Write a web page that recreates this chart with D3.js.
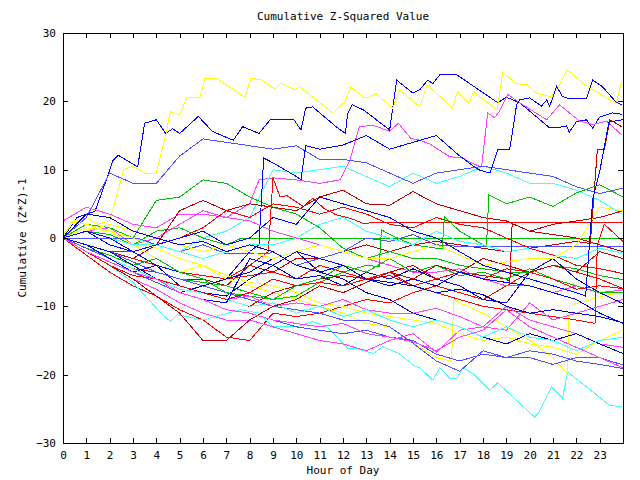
<!doctype html>
<html lang="en">
<head>
<meta charset="UTF-8">
<title>Cumulative Z-Squared Value</title>
<script src="https://cdn.jsdelivr.net/npm/d3@7"></script>
<style>
  body { margin: 0; background: #fff; }
  svg text { font-family: "DejaVu Sans Mono", "Liberation Mono", monospace; font-size: 11px; fill: #000; }
</style>
</head>
<body>
<svg width="640" height="480"></svg>
<script>
// hourly sample points (used by most series)
const hours = d3.range(0, 25);
const xTicks = d3.range(0, 24);
const yTicks = [-30, -20, -10, 0, 10, 20, 30];

// series traced at finer resolution carry their own hour arrays
const yellow1Hours = [0,0.5,1,1.5,2,2.6,3,3.5,4,4.4,4.6,5,5.3,5.87,6.08,6.6,7.8,8.05,8.52,9.08,9.34,9.94,10.15,11.56,12.08,12.33,12.93,13.15,13.4,14.13,14.43,15.29,15.6,16.7,16.9,17.4,17.6,18.6,18.85,19.4,19.9,20.3,20.9,21.2,21.6,22.3,23.1,23.7,23.95];
const yellow1 = [0.5,2.5,3,2,2.5,10,10.5,9.5,9.5,15,18.5,18,20.5,20.6,23.3,23.3,20.6,23.4,23.1,21.8,22.7,21.7,22.1,18.3,19.9,22.1,20.5,20.6,21.2,19,21.7,19.2,22.4,19,21.4,19.7,21.4,18.7,24.3,22.6,22.4,21.2,20.7,21.9,24.6,22.6,20.9,19.7,22.9];

const blue1Hours = [0,0.6,1.37,1.7,2.15,2.37,3.2,3.5,4,4.4,4.7,5,5.8,6.4,7.3,7.7,8.4,8.9,9.9,10.2,10.4,10.7,11.7,12.1,12.2,12.4,12.9,14,14.3,15,15.29,15.63,15.85,16.15,16.87,17.43,18.16,18.63,19,19.57,20.2,20.86,21.16,21.58,21.7,22,22.44,22.7,23,23.55,23.94];
const blue1 = [0,3,3.9,7,11.4,12.1,10.4,16.8,17.3,15.3,16,15.3,17.8,15.6,14.3,16.3,15.3,17.4,17.3,15.8,19,19.2,16.3,15.3,18.2,19.5,18.7,15.8,23.1,21.2,21.7,23.1,22.6,23.9,23.9,22.6,20.9,19.8,20.6,19.8,18,16.1,16.1,16.4,15.5,17,17.3,16.1,17.7,18.3,18.1];

const blue2Hours = [0,1,2,3,4,5,6,7,8,8.4,8.6,9,10,10.2,10.4,11,12,13,14,15,16,17,17.8,18.3,18.63,19.14,19.23,19.44,19.57,20,20.3,20.5,20.73,20.86,21.16,21.4,21.7,22.44,22.7,23.1,23.7,23.94];
const blue2 = [0,1,-1,-2,-4,-5,-4,-6,-2,-1,11.7,11,9,8.5,13.5,13,13.6,15,13,14,15,12,10,9.5,12.9,12.9,14.8,19.5,20.2,20.5,19.8,19.3,20.2,19.3,22.2,20.7,20.4,20.4,23.1,22.2,19.9,19.5];

const blue7Hours = [0,1,2,3,4,5,6,7,8,9,10,11,12,13,14,15,16,17,18,19,20,21,22,22.4,22.7,23,23.4,24];
const blue7 = [0,1,0,-2,-1,0,1,-1,0,3,2,6,5,4,3,1,0,-2,-4,-5,-6,-7,-8,-8.5,5.6,9.7,17,17.3];

const magenta1Hours = [0,1,2,3,4,5,6,7,8,8.4,9,10,11,11.87,12.3,12.7,13.3,14,14.37,14.9,15.29,15.7,16.57,17.13,17.56,17.94,18.2,18.5,18.7,19.06,19.57,20.73,21.28,22.14,22.7,23.3,23.94];
const magenta1 = [0,1,1.5,-1,0,2,4,3,5,8.5,8.8,8.5,8,8.5,11.4,16.3,16.5,15.6,16.8,14.6,14.3,13.8,11.9,11.7,10.9,10.4,18.3,17.6,18.5,21,19.8,17.3,19.5,17.1,16.6,17.1,15.1];

const cyan2Hours = [0,1,2,3,4.2,4.6,4.9,6,7.6,8.4,9,10,10.7,11.3,12.2,12.5,13.3,13.7,14.4,15.1,15.29,15.85,16.15,16.57,16.87,17.13,17.56,18.29,18.63,20.21,20.4,20.94,21.41,21.63,22.44,23.43,23.94];
const cyan2 = [0,-2,-4,-6.5,-11,-12.2,-11.2,-12,-10.5,-11,-13,-13,-12.2,-13,-16.1,-16.1,-16.9,-15.9,-16.9,-18.8,-19,-20.8,-19,-20.5,-20.6,-19,-19.8,-22.3,-21.2,-26.2,-25.5,-21.8,-23.4,-19.6,-21.8,-24.5,-24.7];

const darkred1Hours = [0,1,2,3,4,5,6,7,8,9,10,11,12,13,14,15,16,17,18,19,20,21,22,22.6,22.9,23.2,23.44,23.94];
const darkred1 = [0,-1,-2,-3.5,-5,-6,-6,-7,-4,-5,-3,-3,-2,-1,-2,-1,-0.5,-1,-1.5,-2,-1.5,-1,-0.5,-0.8,12.9,12.9,17.3,16.3];

const darkred3Hours = [0,1,2,3,4,5,6,7,8,9,10,11,12,13,14,15,16,17,18,19,19.15,19.25,20,21,22,23,24];
const darkred3 = [0,-1.5,-3,-4.5,-6,-7,-8,-9,-10,-8,-7,-6,-5.5,-6,-5,-4,-6,-5,-5.5,-6,-6.4,2.1,1,0.5,0,-1,-2];

const red1Hours = [0,1,2,3,4,5,6,7,8,8.8,9,9.3,9.6,10.3,10.7,11.2,11.7,12.3,12.9,13.4,24];
const red1 = [0,-1,-2,-3,-4,-5,-5.5,-6,-4,-2,8.8,6,6.2,4.6,5.8,4.3,3.4,2.9,2.1,2.3,2.3];

const red3Hours = [0,1,2,3,4,5,6,7,8,9,10,11,12,13,14,15,16,17,18,19,20,21,22,22.8,22.9,23.2,24];
const red3 = [0,-1.5,-3,-4.5,-5,-6,-7,-6,-5.5,-5,-6,-4,-5,-6,-5.5,-7,-8,-9,-10,-10.5,-11,-11.5,-12,-12.5,-1,2,-0.5];

const yellow2Hours = [0,1,2,3,4,5,6,7,8,9,10,11,12,13,14,15,16,16.65,16.75,17,18,19,20,21,21.6,21.7,22,23,24];
const yellow2 = [0,1.5,1,-1,-3,-5,-4,-6,-7,-8,-9,-10,-11,-12.5,-13,-15.4,-17.5,-18,-9,-9.5,-11,-13,-15,-17.5,-19.8,-10,-9.6,-8.6,-7.9];

const green2Hours = [0,1,2,3,4,5,6,7,8,9,10,11,12,13,13.55,13.65,14,15,16,16.25,16.35,17,18,18.15,18.25,19,20,21,22,23,24];
const green2 = [0,-1,-2,-3.5,-5,-6,-6.5,-7,-8,-9,-8.5,-6.5,-5,-4,-4.2,1.2,0.5,-1,-1.5,-1.6,3.1,1,-1,-1.2,6.3,5,6,4.6,6.6,7.8,6];

const slate2Hours = [0,3.2,4,5,6,7,8.8,9,10,11,12,13,14,15,16,16.9,24];
const slate2 = [0,0,-1,-2,-1,-2.3,-2.3,-2,-4,-3,-2,0,-0.5,0.5,-1,-1.2,-1.2];

const green0Hours = [0,1,2,3,4,5,6,7,7.66,24];
const green0 = [0,1,0.5,-1,1,1.5,0,-1,0,0];

// hourly series
const yellow3 = [2.5,2,1,0,-1.5,-3,-4,-5.5,-6.5,-7,-8,-9.5,-10,-11,-11.5,-12,-12.5,-14,-15,-14.5,-15.5,-16,-17,-15,-13.5];
const yellow4 = [0,1,2,1,0,-1,-2,-1,-2,-3,-2,-1,-2,-3,-3,-2,-1,-2.5,-4,-3.5,-3,-3,-1,4.5,4];

const blue3 = [0,-1,-3,-5,-4,-7,-8,-8.5,-6,-4,-6,-5.5,-7,-5,-6,-4.5,-6,-7,-9,-9.5,-5,-3,-6,-8,-9.6];
const blue4 = [0,-1,-2,-4,-6,-8,-7,-6,-5,-3,-2,-5,-6,-8,-9,-11,-12,-13,-14.5,-15.5,-14,-15,-14,-15.5,-16.9];
const blue5 = [0,-1,-3,-5,-6,-8,-9,-9.5,-3,-4,-2,-3,-4,-6,-7,-6,-7,-5,-6,-6.5,-7,-8,-9,-11,-12.5];
const blue6 = [0,3.5,3,1,0,-1,-0.5,-2,-1,-2,-4,-5,-4,-6,-6.5,-7,-8,-7.5,-8.3,-10,-11,-10.5,-11,-11.5,-12.4];

const slate1 = [0,3,9.5,8,8,12,14.5,14,13.5,13,13.5,11.5,11.5,11,9.5,8,9.5,10,10.5,10,9.5,9,7.5,6.5,7.3];
const slate3 = [0,-1,-2,-3.5,-5,-6,-7,-8,-9,-10,-10.5,-11,-12,-12,-13,-15.4,-18,-19.5,-16.5,-17.5,-17.5,-18.5,-17.5,-17.5,-18.6];
const slate4 = [0,-1.5,-3,-5,-6.5,-8,-9,-10.5,-11,-12,-13,-13.5,-14,-13.5,-14.5,-15,-17,-18,-17,-17.5,-16.5,-17,-18,-18.5,-19.1];

const red2 = [0,-2.5,-5,-7,-8.5,-10.5,-12,-14.5,-15,-11,-11.5,-11,-10,-9,-9.5,-8,-7,-8,-9,-7,-5,-4,-5,-6,-7.4];
const red4 = [0,-1,-2,-2,-1,0,1.5,4,3,5,4.5,3.5,4.5,3.5,2,1.5,3,2,1.5,0,-1.5,-2.5,-4,-4.5,-5.2];
const red5 = [0,-2,-4,-5.5,-6,-7,-8,-9,-8,-6,-7,-6.5,-7,-6,-5,-7,-6,-5,-6,-4.5,-5,-6,-7.5,-7,-7.4];

const darkred2 = [0,-1,-2,-3,-1,4,5.5,4,5,4.5,4,6,7,5,4.8,6.8,5,4,3,2.5,1,2,2.5,3,4];
const darkred4 = [0,-2,-4,-6,-8.5,-11,-15,-15,-12,-10,-9,-7,-8,-6.5,-5,-6,-4,-5,-3,-4,-5,-4,-5,-2,-3];

const magenta2 = [2.5,4.5,3.5,2,1.5,3.5,3.5,3,2.5,1,0,-1,-2,-3,-4,-5,-5,-4.5,-6,-7,-7,-8,-7,-8,-7.6];
const magenta3 = [0,-2,-4,-6,-7.5,-9.5,-11,-12,-12,-13,-14,-15,-15.5,-16.5,-15,-14,-16.7,-13.5,-13,-10,-12,-13,-14,-15.5,-16];
const magenta4 = [0,-1.5,-3,-5,-6,-7,-8,-9,-8.5,-10,-9.5,-10,-9,-10.5,-11,-11,-10.3,-11.5,-13,-13.5,-9.5,-12,-11,-10,-9];
const magenta5 = [0,-2,-3.5,-5,-6,-8,-9,-10.5,-11,-12,-12.5,-13,-12.5,-14,-14.5,-15.2,-16.5,-14.5,-13.5,-10.5,-13,-14.5,-16,-17.5,-19];

const cyan1 = [0,2,1,0,-1,-2,0,1,3,10,9.5,10,10.5,9,7.5,9.5,8,9,10.5,9.5,8,8,7,5.5,3.4];
const cyan3 = [0,1,0,-1,-1,-2,-3,-2,-1,-1,0,2,3,1,0,-1,1,-0.5,-1,-2,-1.5,-2.5,-3,-1.5,-2.2];
const cyan4 = [0,-1.5,-3,-4.5,-6,-7.5,-8,-9,-10,-9.5,-11,-10,-11.5,-10.5,-12,-13,-12,-13,-14.5,-13,-14.5,-15,-16.5,-15,-14.5];

const green1 = [0,2,1.5,0,5.5,6,8.5,8,6,4.5,3.5,1.5,-1.5,-3,-2,-3,-3,-4,-4.5,-5,-5,-4,-4.5,-5.5,-6.1];
const green3 = [0,-1.5,-2.5,-4,-3,-5,-6,-8,-8.5,-9,-7,-6,-4,-5,-3,-5,-4,-5.5,-5,-6,-4.5,-6,-7,-8,-8];

const RED = "#ff0000", GREEN = "#00c000", BLUE = "#0000ff", MAGENTA = "#ff40ff",
      CYAN = "#40ffff", DARKRED = "#c00000", YELLOW = "#ffff00", SLATE = "#5050ff", NAVY = "#0000c0";

// drawing order follows the plot: later series on top
const series = [
  [red1Hours, red1, RED], [green0Hours, green0, GREEN], [blue1Hours, blue1, BLUE], [magenta1Hours, magenta1, MAGENTA],
  [hours, cyan1, CYAN], [darkred1Hours, darkred1, DARKRED], [yellow1Hours, yellow1, YELLOW], [hours, slate1, SLATE],
  [hours, red2, RED], [hours, green1, GREEN], [blue2Hours, blue2, BLUE], [hours, magenta2, MAGENTA],
  [cyan2Hours, cyan2, CYAN], [hours, darkred2, DARKRED], [yellow2Hours, yellow2, YELLOW], [slate2Hours, slate2, SLATE],
  [red3Hours, red3, RED], [green2Hours, green2, GREEN], [hours, blue3, NAVY], [hours, magenta3, MAGENTA],
  [hours, cyan3, CYAN], [darkred3Hours, darkred3, DARKRED], [hours, yellow3, YELLOW], [hours, slate3, SLATE],
  [hours, red4, RED], [hours, green3, GREEN], [hours, blue4, NAVY], [hours, magenta4, MAGENTA],
  [hours, cyan4, CYAN], [hours, darkred4, DARKRED], [hours, yellow4, YELLOW], [hours, slate4, SLATE],
  [hours, red5, RED], [hours, blue5, BLUE], [hours, magenta5, MAGENTA], [hours, blue6, NAVY],
  [blue7Hours, blue7, BLUE]
];

const svg = d3.select("svg");
const plotLeft = 63, plotRight = 623, plotTop = 33, plotBottom = 443;

const x = d3.scaleLinear().domain([0, 24]).range([plotLeft, plotRight]);
const y = d3.scaleLinear().domain([-30, 30]).range([plotBottom, plotTop]);

svg.append("clipPath").attr("id", "plot")
  .append("rect").attr("x", plotLeft).attr("y", plotTop)
  .attr("width", plotRight - plotLeft).attr("height", plotBottom - plotTop);

svg.append("g").attr("clip-path", "url(#plot)")
  .selectAll("path")
  .data(series)
  .enter().append("path")
  .attr("d", s => d3.line().x((d, i) => x(s[0][i])).y(d => y(d))(s[1]))
  .attr("fill", "none")
  .attr("stroke", s => s[2])
  .attr("stroke-width", 1)
  .attr("shape-rendering", "crispEdges");

// axes, ticks pointing inwards on all four sides
const ax = svg.append("g").attr("transform", "translate(0," + plotBottom + ")")
  .call(d3.axisBottom(x).tickValues(xTicks).tickSizeInner(-5).tickSizeOuter(0).tickPadding(8));
const ay = svg.append("g").attr("transform", "translate(" + plotLeft + ",0)")
  .call(d3.axisLeft(y).tickValues(yTicks).tickSizeInner(-5).tickSizeOuter(0).tickPadding(7));
const at = svg.append("g").attr("transform", "translate(0," + plotTop + ")")
  .call(d3.axisTop(x).tickValues(xTicks).tickSizeInner(-5).tickSizeOuter(0).tickFormat(""));
const ar = svg.append("g").attr("transform", "translate(" + plotRight + ",0)")
  .call(d3.axisRight(y).tickValues(yTicks).tickSizeInner(-5).tickSizeOuter(0).tickFormat(""));

[ax, ay, at, ar].forEach(g => {
  g.select(".domain").remove();
  g.selectAll("line").attr("stroke", "#000").attr("shape-rendering", "crispEdges");
  g.selectAll("text").attr("font-family", null).attr("font-size", null);
});

svg.append("rect")
  .attr("x", plotLeft).attr("y", plotTop)
  .attr("width", plotRight - plotLeft).attr("height", plotBottom - plotTop)
  .attr("fill", "none").attr("stroke", "#000")
  .attr("shape-rendering", "crispEdges");

svg.append("text").attr("x", 343).attr("y", 20).attr("text-anchor", "middle")
  .text("Cumulative Z-Squared Value");
svg.append("text").attr("x", 343).attr("y", 474).attr("text-anchor", "middle")
  .text("Hour of Day");
svg.append("text").attr("transform", "translate(26,238) rotate(-90)")
  .attr("text-anchor", "middle").text("Cumulative (Z*Z)-1");
</script>
</body>
</html>
